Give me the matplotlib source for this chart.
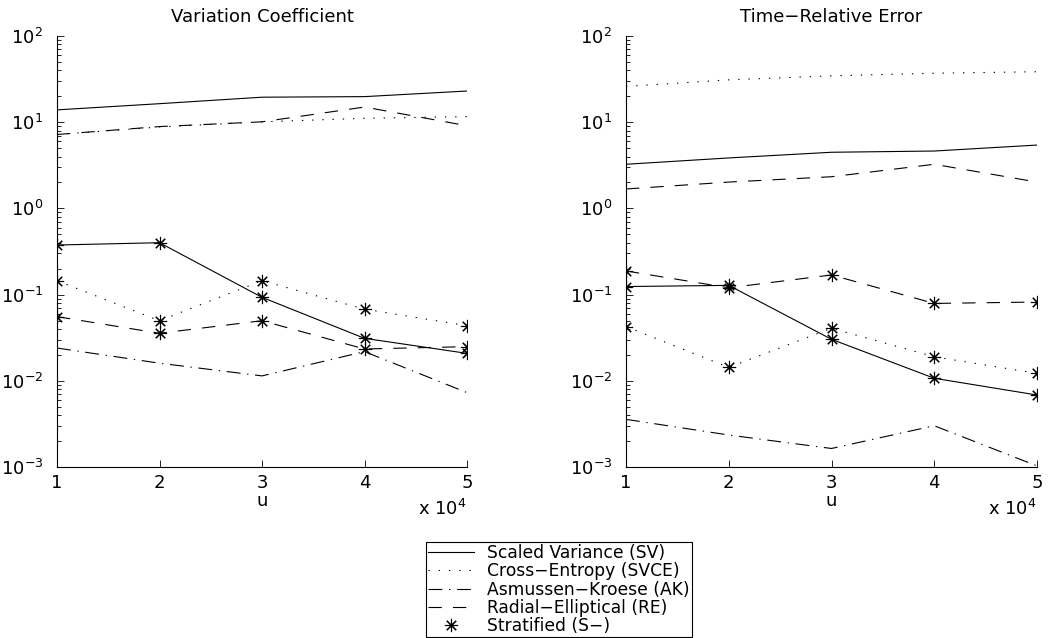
"""
Variation coefficient and time-relative error vs u, log scale, two panels.
"""
import numpy as np
import matplotlib
matplotlib.use("Agg")
import matplotlib.pyplot as plt
from matplotlib.lines import Line2D
from matplotlib.ticker import LogLocator, LogFormatterSciNotation, NullFormatter

plt.rcParams['font.family'] = ['DejaVu Sans']
plt.rcParams['mathtext.fontset'] = 'dejavusans'
plt.rcParams['mathtext.default'] = 'regular'
FS = 13
plt.rcParams['font.size'] = FS

# x values (in units of 10^4)
u = [1, 2, 3, 4, 5]
u_scale = 1e4

# Variation coefficient
vc_sv = [13.9, 16.4, 19.5, 19.8, 23.0]
vc_ce = [7.2, 8.8, 10.1, 11.1, 11.6]
vc_re = [7.2, 8.9, 10.1, 15.0, 9.1]
vc_ak = [0.0240, 0.0160, 0.0114, 0.0218, 0.0073]
vc_sv_s = [0.376, 0.400, 0.093, 0.0311, 0.0208]
vc_ce_s = [0.145, 0.0498, 0.145, 0.0678, 0.0436]
vc_re_s = [0.0555, 0.0356, 0.0498, 0.0234, 0.0249]

# Time-relative error
tr_sv = [3.25, 3.85, 4.48, 4.63, 5.43]
tr_ce = [26.0, 31.0, 34.5, 37.0, 38.5]
tr_re = [1.68, 2.02, 2.33, 3.25, 2.02]
tr_ak = [0.00357, 0.00235, 0.00164, 0.00301, 0.00103]
tr_sv_s = [0.124, 0.128, 0.0303, 0.0107, 0.00684]
tr_ce_s = [0.0426, 0.0143, 0.0407, 0.0190, 0.0122]
tr_re_s = [0.188, 0.120, 0.169, 0.079, 0.082]

titles = ['Variation Coefficient', 'Time\u2212Relative Error']
legend_labels = ['Scaled Variance (SV)', 'Cross\u2212Entropy (SVCE)',
                 'Asmussen\u2212Kroese (AK)', 'Radial\u2212Elliptical (RE)',
                 'Stratified (S\u2212)']

lw = 0.8
solid = '-'
dotted = (0, (1.2, 8))
dashdot = (0, (12.5, 6, 1.2, 6))
dashed = (0, (12, 10))
star = (8, 2, 0)
ms = 9.5
mew = 0.8

fig = plt.figure(figsize=(10.5, 6.38), dpi=100)
W, H = 1050, 638
ax_left = fig.add_axes([57 / W, 1 - 467 / H, 410 / W, 431 / H])
ax_right = fig.add_axes([626 / W, 1 - 467 / H, 411 / W, 431 / H])

panels = [
    (ax_left, vc_sv, vc_ce, vc_re, vc_ak, vc_sv_s, vc_ce_s, vc_re_s),
    (ax_right, tr_sv, tr_ce, tr_re, tr_ak, tr_sv_s, tr_ce_s, tr_re_s),
]

x = np.array(u) * u_scale
for i, (ax, sv, ce, re, ak, sv_s, ce_s, re_s) in enumerate(panels):
    ax.plot(x, sv, color='k', lw=lw, linestyle=solid)
    ax.plot(x, ce, color='k', lw=lw, linestyle=dotted)
    ax.plot(x, re, color='k', lw=lw, linestyle=dashed)
    ax.plot(x, ak, color='k', lw=lw, linestyle=dashdot)
    ax.plot(x, sv_s, color='k', lw=lw, linestyle=solid, marker=star,
            markersize=ms, markeredgewidth=mew)
    ax.plot(x, ce_s, color='k', lw=lw, linestyle=dotted, marker=star,
            markersize=ms, markeredgewidth=mew)
    ax.plot(x, re_s, color='k', lw=lw, linestyle=dashed, marker=star,
            markersize=ms, markeredgewidth=mew)

    ax.set_yscale('log')
    ax.set_ylim(1e-3, 1e2)
    ax.set_xlim(x[0], x[-1])
    ax.set_xticks(x)
    ax.set_xticklabels([str(v) for v in u])
    ax.yaxis.set_major_locator(LogLocator(base=10, numticks=10))
    ax.yaxis.set_major_formatter(LogFormatterSciNotation())
    ax.yaxis.set_minor_locator(LogLocator(base=10, subs=np.arange(2, 10), numticks=20))
    ax.yaxis.set_minor_formatter(NullFormatter())
    ax.tick_params(which='both', direction='in', labelsize=FS, width=0.6)
    ax.tick_params(which='major', length=5)
    ax.tick_params(axis='y', which='major', pad=10)
    ax.tick_params(axis='x', which='major', pad=5)
    ax.tick_params(which='minor', length=3)
    ax.spines['top'].set_visible(False)
    ax.spines['right'].set_visible(False)
    ax.spines['left'].set_linewidth(0.8)
    ax.spines['bottom'].set_linewidth(0.8)
    ax.patch.set_alpha(0)

    ax.set_title(titles[i], fontsize=FS, pad=10)
    ax.set_xlabel('u', fontsize=FS, labelpad=0)
    ax.text(1.0, -0.075, r'x 10$^{4}$', transform=ax.transAxes,
            ha='right', va='top', fontsize=FS)

handles = [
    Line2D([], [], color='k', lw=lw, linestyle=solid),
    Line2D([], [], color='k', lw=lw, linestyle=dotted),
    Line2D([], [], color='k', lw=lw, linestyle=dashdot),
    Line2D([], [], color='k', lw=lw, linestyle=dashed),
    Line2D([], [], color='k', lw=0, marker=star, markersize=ms, markeredgewidth=mew),
]
leg = fig.legend(handles, legend_labels, loc='upper left',
                 bbox_to_anchor=(426 / W, 1 - 542 / H), borderaxespad=0,
                 fancybox=False, edgecolor='k', framealpha=1, fontsize=12.3,
                 handlelength=2.7, handletextpad=0.75, labelspacing=0.02,
                 borderpad=0.12)
leg.get_frame().set_linewidth(0.8)

fig.savefig('out.png', dpi=100)
